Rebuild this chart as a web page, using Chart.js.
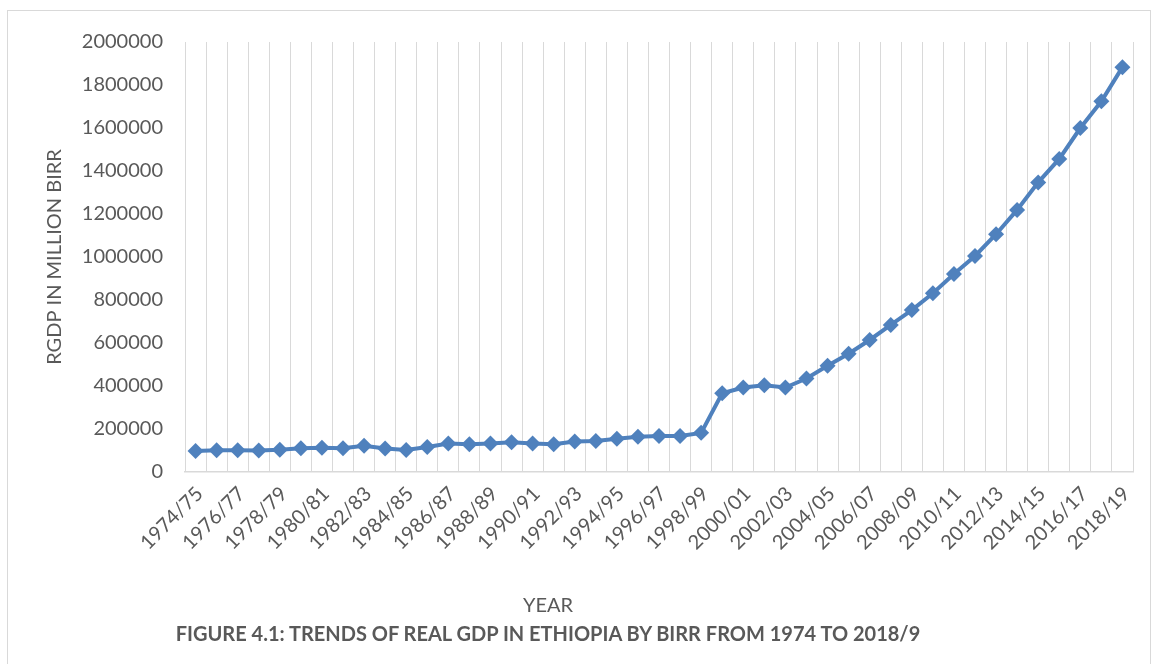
<!DOCTYPE html>
<html>
<head>
    <title>Trends of Real GDP in Ethiopia</title>
    <meta charset="UTF-8">
    <script src="https://cdn.jsdelivr.net/npm/chart.js"></script>
    <style>
        body {
            margin: 0;
            background: #ffffff;
            font-family: Lato, "Open Sans", sans-serif;
        }
        .frame {
            position: relative;
            width: 1153px;
            height: 664px;
            overflow: hidden;
        }
        .frame-border {
            position: absolute;
            left: 7px;
            top: 10px;
            width: 1142px;
            height: 660px;
            border: 1px solid #d9d9d9;
        }
        #gdpChart {
            position: absolute;
            left: 0;
            top: 0;
        }
        .bottom-text {
            position: absolute;
            left: 0;
            width: 1096px;
            text-align: center;
            color: #595959;
            font-size: 20px;
            line-height: 24px;
        }
        #xTitle {
            top: 592px;
        }
        #caption {
            top: 621px;
            font-weight: bold;
        }
    </style>
</head>
<body>
    <div class="frame">
        <div class="frame-border"></div>
        <canvas id="gdpChart" width="1153" height="664"></canvas>
        <div id="xTitle" class="bottom-text">YEAR</div>
        <div id="caption" class="bottom-text">FIGURE 4.1: TRENDS OF REAL GDP IN ETHIOPIA BY BIRR FROM 1974 TO 2018/9</div>
    </div>

    <script>
        // fiscal years (x categories)
        const years = [
            '1974/75', '1975/76', '1976/77', '1977/78', '1978/79', '1979/80',
            '1980/81', '1981/82', '1982/83', '1983/84', '1984/85', '1985/86',
            '1986/87', '1987/88', '1988/89', '1989/90', '1990/91', '1991/92',
            '1992/93', '1993/94', '1994/95', '1995/96', '1996/97', '1997/98',
            '1998/99', '1999/00', '2000/01', '2001/02', '2002/03', '2003/04',
            '2004/05', '2005/06', '2006/07', '2007/08', '2008/09', '2009/10',
            '2010/11', '2011/12', '2012/13', '2013/14', '2014/15', '2015/16',
            '2016/17', '2017/18', '2018/19'
        ];

        // real GDP, million birr
        const rgdp = [
            98000, 101000, 101000, 100000, 104000, 111000,
            113000, 110000, 122000, 109000, 102000, 116000,
            132000, 129000, 132000, 138000, 132000, 129000,
            142000, 144000, 155000, 164000, 167000, 167000,
            182000, 366000, 393000, 404000, 393000, 435000,
            494000, 550000, 614000, 684000, 753000, 831000,
            921000, 1005000, 1106000, 1219000, 1347000, 1456000,
            1600000, 1724000, 1883000
        ];

        const yMin = 0;
        const yMax = 2000000;
        const yStep = 200000;

        const textColor = '#595959';
        const gridColor = '#d9d9d9';
        const lineColor = '#4f81bd';
        const baseFont = { family: 'Lato', size: 20 };

        const ctx = document.getElementById('gdpChart').getContext('2d');
        const gdpChart = new Chart(ctx, {
            type: 'line',
            data: {
                labels: years,
                datasets: [{
                    label: 'RGDP',
                    data: rgdp,
                    borderColor: lineColor,
                    backgroundColor: lineColor,
                    borderWidth: 4,
                    pointStyle: 'rectRot',
                    pointRadius: 8,
                    pointBorderWidth: 0,
                    pointBackgroundColor: lineColor,
                    tension: 0,
                    fill: false
                }]
            },
            options: {
                responsive: false,
                animation: false,
                layout: {
                    padding: { top: 42, right: 20, left: 0, bottom: 0 }
                },
                plugins: {
                    legend: { display: false },
                    tooltip: { enabled: false }
                },
                scales: {
                    x: {
                        offset: true,
                        grid: {
                            color: gridColor,
                            lineWidth: 1,
                            offset: true,
                            drawTicks: false
                        },
                        border: { color: gridColor, width: 1.5 },
                        ticks: {
                            autoSkip: false,
                            minRotation: 45,
                            maxRotation: 45,
                            padding: 10,
                            labelOffset: 4,
                            color: textColor,
                            font: baseFont,
                            callback: function(value, index) {
                                return index % 2 === 0 ? this.getLabelForValue(value) : '';
                            }
                        },
                        afterFit: function(scale) {
                            scale.height = 192;
                        }
                    },
                    y: {
                        min: yMin,
                        max: yMax,
                        grid: { display: false, drawTicks: false },
                        border: { display: false },
                        ticks: {
                            stepSize: yStep,
                            padding: 22,
                            color: textColor,
                            font: baseFont,
                            callback: function(value) {
                                return String(value);
                            }
                        },
                        title: {
                            display: true,
                            text: 'RGDP IN MILLION BIRR',
                            color: textColor,
                            font: baseFont,
                            padding: { top: 43, bottom: 0 }
                        },
                        afterFit: function(scale) {
                            scale.width = 185;
                        }
                    }
                }
            }
        });
    </script>
</body>
</html>
